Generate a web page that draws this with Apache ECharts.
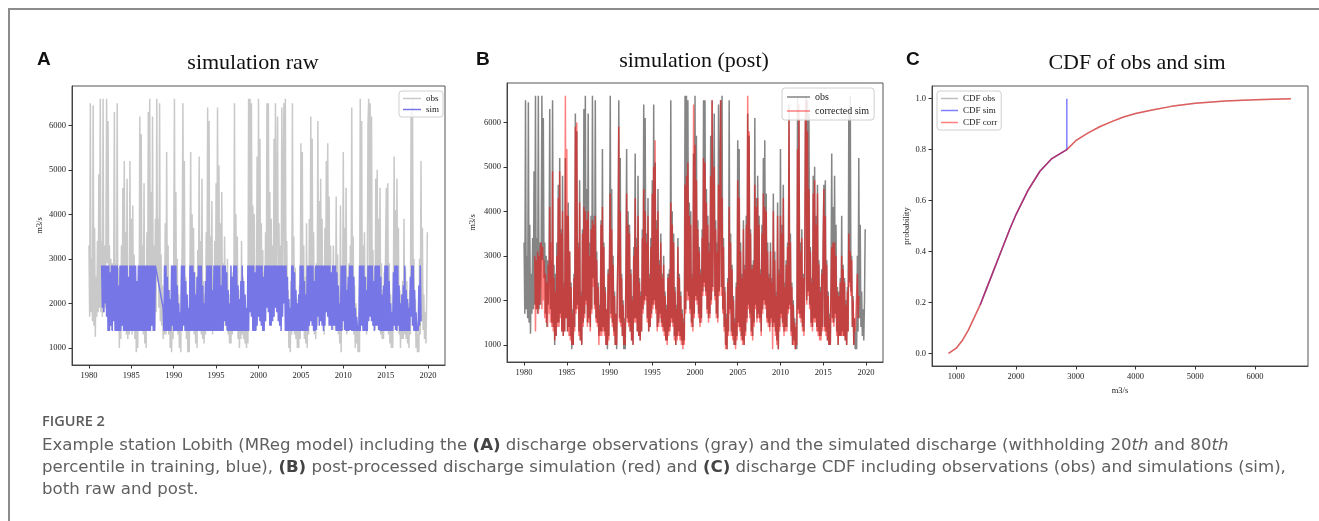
<!DOCTYPE html>
<html>
<head>
    <meta charset="utf-8">
    <title>Figure 2 - Lobith discharge</title>
    <script src="https://cdn.jsdelivr.net/npm/echarts@6/dist/echarts.min.js"></script>
</head>
<body style="margin:0;background:#fff">
<div id="container" style="width:1319px;height:521px"></div>
<script>
    // --- data (monthly, m3/s) ---
    // observed discharge, Jan 1980 .. Dec 2019
    var obs1980s = [
        3300, 1700, 6500, 1800, 3000, 1600, 6450, 1500, 3700, 1250, 2600, 1700, // 1980
        3400, 1800, 4900, 1900, 6600, 1800, 3400, 1700, 6600, 1800, 3300, 1900, // 1981
        3200, 6600, 2900, 6100, 2500, 3300, 1700, 3000, 1400, 2900, 1900, 2600, // 1982
        6300, 1800, 2900, 1500, 6500, 1400, 2800, 1000, 2600, 1200, 3300, 1500, // 1983
        4600, 1500, 5200, 1700, 3600, 1300, 4800, 1200, 2400, 1300, 5200, 1600, // 1984
        3900, 1300, 4200, 1400, 3100, 1200, 2400, 900, 1800, 1000, 2600, 1400,  // 1985
        6200, 1800, 5800, 1900, 3300, 1300, 4700, 1100, 2200, 1000, 3600, 1500, // 1986
        6300, 1700, 6600, 2000, 4500, 1500, 6200, 1600, 3300, 1400, 3900, 1800, // 1987
        6600, 2500, 3900, 1900, 6500, 1600, 3100, 1500, 2400, 1200, 1900, 1300, // 1988
        3800, 1300, 5400, 1400, 3300, 1300, 2300, 1000, 1800, 900, 2700, 1200   // 1989
    ];
    var obs1990s = [
        3000, 6600, 1700, 4500, 1500, 3000, 1300, 2200, 1000, 1700, 900, 2300,  // 1990
        3400, 6500, 1600, 5200, 1500, 2600, 1200, 2000, 900, 1600, 900, 2700,   // 1991
        5400, 1600, 4000, 1500, 3700, 1300, 2700, 1100, 2100, 1000, 3200, 1600, // 1992
        5300, 1600, 3400, 1300, 4800, 1200, 2500, 1100, 2200, 1300, 3600, 1800, // 1993
        6400, 2000, 6100, 2100, 3500, 1600, 4300, 1300, 2600, 1400, 3400, 1700, // 1994
        4700, 1900, 6400, 2000, 5100, 1800, 3800, 1400, 4500, 1500, 2900, 1700, // 1995
        3500, 1500, 2600, 1400, 3000, 1300, 2200, 1100, 1900, 1100, 2600, 1300, // 1996
        2700, 1400, 6500, 1600, 4000, 1500, 3500, 1200, 2300, 1000, 1900, 1200, // 1997
        3400, 1300, 2600, 1200, 2200, 1100, 1800, 1000, 1600, 1100, 6600, 1800, // 1998
        6600, 2200, 6500, 2100, 4200, 1800, 4000, 1500, 2600, 1400, 5300, 1700  // 1999
    ];
    var obs2000s = [
        6600, 2100, 5700, 2000, 3800, 1700, 3200, 1500, 2700, 1600, 3600, 2200, // 2000
        6500, 2400, 6500, 2200, 4500, 1800, 3900, 1600, 3300, 1700, 5700, 2000, // 2001
        6500, 2300, 4300, 6200, 2100, 3800, 1700, 3300, 1600, 6400, 2200, 4700, // 2002
        6500, 2300, 6600, 1800, 3400, 1400, 2300, 1000, 1700, 900, 2500, 1300,  // 2003
        6500, 1800, 3500, 1300, 2800, 1200, 2100, 1000, 1600, 1000, 2400, 1200, // 2004
        5600, 1500, 5400, 1400, 3300, 1200, 2600, 1100, 3800, 1000, 2800, 1300, // 2005
        3900, 1600, 6200, 1900, 5700, 1700, 3600, 1300, 2800, 1200, 2900, 1500, // 2006
        6100, 1900, 4300, 1600, 4800, 1700, 3900, 1600, 2700, 1300, 3700, 1800, // 2007
        5200, 2000, 5600, 1900, 4400, 1600, 3300, 1500, 2600, 1400, 3300, 1600, // 2008
        2500, 1400, 4400, 1500, 3100, 1300, 2200, 1100, 4200, 900, 2700, 1400   // 2009
    ];
    var obs2010s = [
        5400, 1700, 3700, 1500, 4600, 1300, 2400, 1400, 2900, 1400, 3300, 1800, // 2010
        6400, 1900, 3500, 1300, 2400, 1000, 2000, 1100, 1600, 900, 1400, 900,   // 2011
        6600, 1800, 6100, 1700, 3300, 1600, 3600, 1400, 2600, 1300, 2400, 6000, // 2012
        6600, 2000, 6500, 2200, 6200, 1900, 3200, 1500, 2500, 1400, 4800, 1600, // 2013
        5000, 1600, 3900, 1400, 4600, 1300, 2900, 1200, 2300, 1200, 2700, 1400, // 2014
        3400, 4600, 1400, 4700, 1300, 2900, 1100, 2200, 1000, 1700, 1000, 2400, // 2015
        5300, 1600, 4100, 1500, 4800, 1700, 3700, 1300, 2300, 1000, 2200, 1200, // 2016
        2500, 1200, 3900, 1300, 2800, 1200, 2500, 1100, 2000, 1000, 2300, 1300, // 2017
        6300, 2400, 6600, 2200, 3000, 1400, 2100, 1000, 1600, 900, 1300, 900,   // 2018
        3000, 1300, 5200, 1600, 3700, 1400, 2200, 1200, 1800, 1100, 2000, 3600  // 2019
    ];

    // raw simulation (withheld percentiles), Jul 1981 .. Mar 2019, null = gap
    var simRawStart = 1981.5;
    var simRaw1980s = [
        2850, 1900, 2850, 1800, 2850, 2000,                                     // 1981
        2850, 1700, 2850, 1380, 2850, 1380, 2700, 1500, 2850, 1380, 2850, 1600, // 1982
        2850, 1380, 2850, 1380, 2850, 1380, 2400, 1380, 2850, 1380, 2850, 1500, // 1983
        2850, 1380, 2850, 1380, 2850, 1380, 2850, 1380, 2600, 1380, 2850, 1380, // 1984
        2850, 1380, 2850, 1380, 2850, 1380, 2850, 1380, 2500, 1380, 2850, 1380, // 1985
        2850, 1380, 2850, 1380, 2850, 1380, 2850, 1380, 2850, 1380, 2850, 1380, // 1986
        2850, 1380, 2850, 1380, 2850, 1500, 2850, 1380, 2850, 1380, 2850, 2850, // 1987
        null, null, null, null, null, null, null, null, null, 1900, 1380, 2850, // 1988
        1380, 2850, 1380, 2600, 1380, 2300, 1380, 2100, 1380, 2850, 1500, 2850  // 1989
    ];
    var simRaw1990s = [
        1380, 2850, 1380, 2850, 1380, 2400, 1380, 2000, 1380, 1800, 1380, 2850, // 1990
        1380, 2850, 1500, 2850, 1380, 2500, 1380, 2200, 1380, 1900, 1380, 2850, // 1991
        1380, 2850, 1380, 2850, 1380, 2700, 1380, 2200, 1380, 2600, 1380, 2850, // 1992
        1380, 2850, 1380, 2850, 1380, 2400, 1380, 2000, 1380, 2500, 1380, 2850, // 1993
        1380, 2850, 1380, 2850, 1380, 2850, 1380, 2300, 1380, 2850, 1380, 2850, // 1994
        1380, 2850, 1380, 2850, 1380, 2850, 1380, 2400, 1380, 2850, 1380, 2850, // 1995
        1600, 2850, 1500, 2700, 1380, 2300, 1380, 2000, 1380, 2850, 1380, 2600, // 1996
        1380, 2850, 1380, 2850, 1380, 2850, 1380, 2400, 1380, 2100, 1380, 2500, // 1997
        1380, 2850, 1380, 2500, 1380, 2200, 1380, 1900, 1380, 2850, 1380, 2850, // 1998
        1800, 2850, 1700, 2850, 1380, 2850, 1380, 2700, 1380, 2850, 1500, 2850  // 1999
    ];
    var simRaw2000s = [
        1700, 2850, 1600, 2850, 1500, 2850, 1380, 2600, 1380, 2850, 1600, 2850, // 2000
        1900, 2850, 1800, 2850, 1500, 2850, 1500, 2850, 1600, 2850, 1700, 2850, // 2001
        1900, 2850, 1800, 2850, 1600, 2850, 1500, 2850, 1380, 2850, 1700, 2850, // 2002
        2000, 2850, 1380, 2850, 1380, 2600, 1380, 2100, 1380, 1900, 1380, 2850, // 2003
        1380, 2850, 1380, 2700, 1380, 2300, 1380, 2000, 1380, 2200, 1380, 2850, // 2004
        1380, 2850, 1380, 2850, 1380, 2500, 1380, 2200, 1380, 2850, 1380, 2850, // 2005
        1500, 2850, 1600, 2850, 1500, 2850, 1380, 2500, 1380, 2850, 1400, 2850, // 2006
        1700, 2850, 1500, 2850, 1600, 2850, 1500, 2850, 1380, 2850, 1500, 2850, // 2007
        1800, 2850, 1700, 2850, 1500, 2850, 1500, 2700, 1400, 2850, 1500, 2850, // 2008
        1500, 2850, 1380, 2700, 1380, 2400, 1380, 2000, 1380, 2850, 1380, 2850  // 2009
    ];
    var simRaw2010s = [
        1600, 2850, 1400, 2850, 1380, 2300, 1380, 2600, 1380, 2850, 1400, 2850, // 2010
        1380, 2850, 1380, 2600, 1380, 1900, 1380, 1700, 1380, 1500, 1380, 2850, // 2011
        1380, 2850, 1500, 2850, 1380, 2850, 1380, 2600, 1380, 2300, 1380, 2850, // 2012
        1600, 2850, 1700, 2850, 1600, 2850, 1500, 2500, 1380, 2850, 1500, 2850, // 2013
        1500, 2850, 1400, 2850, 1380, 2600, 1380, 2200, 1380, 2400, 1380, 2850, // 2014
        1380, 2850, 1380, 2850, 1380, 2500, 1380, 2000, 1380, 1800, 1380, 2700, // 2015
        1500, 2850, 1400, 2850, 1380, 2850, 1500, 2400, 1380, 2000, 1380, 2200, // 2016
        1380, 2400, 1380, 2850, 1380, 2300, 1380, 2100, 1380, 1900, 1380, 2600, // 2017
        1700, 2850, 1500, 2850, 1380, 2300, 1380, 1800, 1380, 1500, 1380, 2400, // 2018
        1500, 2850, 1600                                                        // 2019
    ];

    // post-processed (corrected) simulation, Apr 1981 .. Mar 2019
    var corrStart = 1981.25;
    var corr1980s = [
        3000, 1300, 2900, 1800, 3100, 1700, 3000, 1900, 3200,                   // 1981
        3300, 1800, 3200, 2000, 2900, 1600, 2600, 1500, 2400, 1400, 2800, 1700, // 1982
        4100, 1500, 3300, 1400, 4900, 1300, 2500, 1100, 2200, 1200, 3000, 1400, // 1983
        4300, 1400, 4900, 1600, 3500, 1300, 4000, 1200, 2300, 1300, 6600, 1600, // 1984
        5400, 1300, 3900, 1200, 3100, 1100, 2300, 1000, 1700, 1000, 2500, 1300, // 1985
        5900, 1700, 6000, 1800, 3200, 1200, 4200, 1100, 2100, 1000, 3500, 1400, // 1986
        4100, 1600, 4000, 1900, 3800, 1400, 4000, 1500, 3000, 1300, 3600, 1700, // 1987
        3800, 2300, 3700, 1800, 3900, 1500, 2900, 1400, 2300, 1000, 1800, 1200, // 1988
        3700, 1200, 4100, 1300, 3200, 1200, 2200, 1000, 1800, 1000, 2600, 1100  // 1989
    ];
    var corr1990s = [
        2900, 4400, 1600, 3600, 1400, 2800, 1200, 2100, 1000, 1700, 1000, 2200, // 1990
        3200, 5900, 1500, 4000, 1400, 2500, 1200, 1900, 1000, 1500, 1000, 2600, // 1991
        4400, 1500, 3700, 1400, 3500, 1300, 2600, 1100, 2000, 1000, 3000, 1500, // 1992
        4300, 1500, 3200, 1300, 3900, 1200, 2400, 1100, 2100, 1300, 3400, 1700, // 1993
        4500, 1900, 4000, 2000, 3300, 1500, 3900, 1300, 2500, 1400, 3200, 1600, // 1994
        4400, 1800, 5000, 1900, 5600, 1700, 3600, 1300, 4000, 1400, 2800, 1600, // 1995
        3300, 1400, 2500, 1300, 2800, 1200, 2100, 1100, 1800, 1000, 2500, 1200, // 1996
        2600, 1300, 4200, 1500, 3700, 1400, 3300, 1100, 2200, 1000, 1800, 1100, // 1997
        3200, 1200, 2500, 1100, 2100, 1000, 1700, 900, 1500, 1000, 4600, 1700,  // 1998
        4800, 2000, 5100, 2000, 3900, 1700, 3700, 1400, 2500, 1300, 6400, 1600  // 1999
    ];
    var corr2000s = [
        5500, 2000, 4700, 1900, 3600, 1600, 3100, 1400, 2600, 1500, 3400, 2100, // 2000
        5200, 2300, 5100, 2100, 4200, 1700, 3700, 1500, 3100, 1600, 4800, 1900, // 2001
        6500, 2200, 4100, 5000, 2000, 3600, 1600, 3100, 1500, 4600, 2100, 4300, // 2002
        6500, 2100, 4300, 1700, 3200, 1300, 2200, 900, 1600, 900, 2400, 1200,   // 2003
        4100, 1700, 3300, 1200, 2700, 1100, 2000, 1000, 1500, 900, 2300, 1100,  // 2004
        4700, 1400, 4300, 1300, 3100, 1100, 2500, 1000, 3600, 1000, 2700, 1200, // 2005
        3700, 1500, 6600, 1800, 5800, 1600, 3500, 1200, 2700, 1100, 2800, 1400, // 2006
        4600, 1800, 4100, 1500, 4300, 1600, 3700, 1500, 2600, 1200, 3500, 1700, // 2007
        4400, 1900, 4100, 1800, 4000, 1500, 3100, 1400, 2500, 1300, 3100, 1500, // 2008
        2400, 900, 4000, 1400, 2900, 1200, 2100, 1000, 3900, 900, 2600, 1300    // 2009
    ];
    var corr2010s = [
        3900, 1600, 3500, 1400, 4300, 1200, 2300, 1300, 2800, 1300, 3200, 1700, // 2010
        6100, 1800, 3300, 1200, 2300, 1000, 1900, 1000, 1500, 900, 1400, 1000,  // 2011
        5400, 1700, 6400, 1600, 3100, 1500, 3400, 1300, 2500, 1200, 2300, 6000, // 2012
        6500, 1900, 5800, 2100, 4500, 1800, 3100, 1400, 2400, 1300, 4400, 1500, // 2013
        4700, 1500, 3700, 1300, 4400, 1200, 2800, 1100, 2200, 1100, 2600, 1300, // 2014
        3300, 4500, 1300, 3900, 1200, 2800, 1100, 2100, 1000, 1600, 1000, 2300, // 2015
        3200, 1500, 3300, 1400, 3300, 1600, 3000, 1200, 2200, 1000, 2100, 1200, // 2016
        2400, 1200, 3000, 1200, 2700, 1200, 2400, 1100, 1900, 1000, 2200, 1300, // 2017
        3500, 2300, 3100, 2100, 2900, 1400, 2000, 1000, 1600, 1300, 1300, 1300, // 2018
        2600, 1600, 2100                                                        // 2019
    ];

    // CDF curves (discharge, probability)
    var cdfQ = [870, 1000, 1100, 1200, 1300, 1400, 1500, 1600, 1700, 1800, 1900, 2000,
        2200, 2400, 2600, 2850, 3000, 3200, 3400, 3600, 3800, 4000, 4300, 4600, 5000, 5500, 6000, 6600];
    var cdfObsP = [0.0, 0.02, 0.05, 0.09, 0.14, 0.19, 0.25, 0.31, 0.37, 0.43, 0.49, 0.545,
        0.64, 0.715, 0.765, 0.80, 0.835, 0.865, 0.89, 0.91, 0.928, 0.942, 0.957, 0.97, 0.982, 0.991, 0.996, 1.0];
    var cdfCorrP = [0.0, 0.02, 0.05, 0.09, 0.14, 0.19, 0.25, 0.31, 0.37, 0.43, 0.49, 0.545,
        0.64, 0.715, 0.765, 0.80, 0.835, 0.865, 0.89, 0.91, 0.928, 0.942, 0.957, 0.97, 0.982, 0.991, 0.996, 1.0];
    var cdfSimQ = [1400, 1500, 1600, 1700, 1800, 1900, 2000, 2200, 2400, 2600, 2850, 2850];
    var cdfSimP = [0.19, 0.25, 0.31, 0.37, 0.43, 0.49, 0.545, 0.64, 0.715, 0.765, 0.80, 1.0];

    var yearTicks = [1980, 1985, 1990, 1995, 2000, 2005, 2010, 2015, 2020];
    var flowTicks = [1000, 2000, 3000, 4000, 5000, 6000];
    var probTicks = [0.0, 0.2, 0.4, 0.6, 0.8, 1.0];

    // --- helpers ---
    function monthly(start, vals) {
        var res = [];
        for (var i = 0; i < vals.length; i++) {
            if (vals[i] !== null) res.push([start + i / 12, vals[i]]);
        }
        return res;
    }
    function pairs(xs, ys) {
        return xs.map(function (x, i) { return [x, ys[i]]; });
    }

    var obs = [].concat(obs1980s, obs1990s, obs2000s, obs2010s);
    var simRaw = [].concat(simRaw1980s, simRaw1990s, simRaw2000s, simRaw2010s);
    var corr = [].concat(corr1980s, corr1990s, corr2000s, corr2010s);

    var serif = '"Liberation Serif", "DejaVu Serif", serif';
    var tickFont = {fontFamily: serif, fontSize: 8.5, color: '#222'};

    function xAxisOf(grid, min, max, ticks, fmt) {
        return {
            gridIndex: grid, type: 'value', min: min, max: max,
            splitLine: {show: false},
            axisLine: {show: true, onZero: false, lineStyle: {color: '#444', width: 1}},
            axisTick: {show: true, customValues: ticks, length: 3.5, lineStyle: {color: '#333'}},
            axisLabel: Object.assign({customValues: ticks, margin: 6, formatter: fmt}, tickFont)
        };
    }
    function yAxisOf(grid, min, max, ticks, fmt, name, gap) {
        return {
            gridIndex: grid, type: 'value', min: min, max: max,
            name: name, nameLocation: 'middle', nameGap: gap, nameRotate: 90,
            nameTextStyle: {fontFamily: serif, fontSize: 8.5, color: '#222'},
            splitLine: {show: false},
            axisLine: {show: true, onZero: false, lineStyle: {color: '#444', width: 1}},
            axisTick: {show: true, customValues: ticks, length: 3.5, lineStyle: {color: '#333'}},
            axisLabel: Object.assign({customValues: ticks, margin: 6, formatter: fmt}, tickFont)
        };
    }
    function lineSeries(name, xi, data, color, z) {
        return {
            name: name, type: 'line', xAxisIndex: xi, yAxisIndex: xi,
            data: data, showSymbol: false, symbol: 'none', z: z,
            itemStyle: {color: color},
            lineStyle: {color: color, width: 1.5},
            emphasis: {disabled: true}
        };
    }
    var intFmt = function (v) { return String(Math.round(v)); };
    var probFmt = function (v) { return v.toFixed(1); };
    var legendBase = {
        orient: 'vertical', icon: 'rect', itemHeight: 1.5,
        backgroundColor: 'rgba(255,255,255,0.85)', borderColor: '#d0d0d0', borderWidth: 1,
        borderRadius: 3, selectedMode: false,
        textStyle: {fontFamily: serif, fontSize: 9, color: '#222'}
    };

    var myChart = echarts.init(document.getElementById('container'), null, {renderer: 'canvas'});

    // caption font (wide humanist sans, like the journal's)
    var capFamily = '"DejaVu Sans", "Open Sans", sans-serif';
    var capColor = '#606060';
    var capSize = 16.6;
    var option = {
        backgroundColor: '#fff',
        animation: false,
        grid: [
            {left: 72, top: 86, width: 373, height: 279, show: true, borderColor: '#555', borderWidth: 1},
            {left: 507, top: 83, width: 376, height: 279, show: true, borderColor: '#555', borderWidth: 1},
            {left: 932, top: 86, width: 376, height: 280, show: true, borderColor: '#555', borderWidth: 1}
        ],
        xAxis: [
            xAxisOf(0, 1978, 2022, yearTicks, intFmt),
            xAxisOf(1, 1978, 2022, yearTicks, intFmt),
            Object.assign(xAxisOf(2, 594, 6886, flowTicks, intFmt), {
                name: 'm3/s', nameLocation: 'middle', nameGap: 15,
                nameTextStyle: {fontFamily: serif, fontSize: 8.5, color: '#222'}
            })
        ],
        yAxis: [
            yAxisOf(0, 615, 6885, flowTicks, intFmt, 'm3/s', 28),
            yAxisOf(1, 615, 6885, flowTicks, intFmt, 'm3/s', 30),
            yAxisOf(2, -0.05, 1.05, probTicks, probFmt, 'probability', 20)
        ],
        legend: [
            Object.assign({}, legendBase, {
                left: 399, top: 91, itemWidth: 18, itemGap: 2, padding: [3, 4],
                data: ['obs A', 'sim'],
                formatter: function (n) { return n === 'obs A' ? 'obs' : n; }
            }),
            Object.assign({}, legendBase, {
                left: 782, top: 88, itemWidth: 23, itemGap: 4, padding: [4, 5],
                textStyle: {fontFamily: serif, fontSize: 10, color: '#222'},
                data: ['obs B', 'corrected sim'],
                formatter: function (n) { return n === 'obs B' ? 'obs' : n; }
            }),
            Object.assign({}, legendBase, {
                left: 937, top: 91, itemWidth: 17, itemGap: 3, padding: [3, 4],
                data: ['CDF obs', 'CDF sim', 'CDF corr']
            })
        ],
        series: [
            lineSeries('obs A', 0, monthly(1980, obs), '#c9c9c9', 2),
            lineSeries('sim', 0, monthly(simRawStart, simRaw), '#7676e6', 3),
            lineSeries('obs B', 1, monthly(1980, obs), '#858585', 2),
            lineSeries('corrected sim', 1, monthly(corrStart, corr), 'rgba(255,0,0,0.5)', 3),
            lineSeries('CDF obs', 2, pairs(cdfQ, cdfObsP), 'rgba(128,128,128,0.5)', 2),
            lineSeries('CDF sim', 2, pairs(cdfSimQ, cdfSimP), 'rgba(0,0,255,0.5)', 3),
            lineSeries('CDF corr', 2, pairs(cdfQ, cdfCorrP), 'rgba(255,0,0,0.5)', 4)
        ],
        graphic: [
            // figure frame
            {type: 'polyline', silent: true, shape: {points: [[9, 521], [9, 9], [1319, 9]]},
                style: {stroke: '#8c8c8c', lineWidth: 2, fill: null}},
            // panel letters
            {type: 'text', x: 37, y: 60, style: {text: 'A', font: 'bold 19px "Liberation Sans", Arial, sans-serif', fill: '#111', textVerticalAlign: 'middle'}},
            {type: 'text', x: 476, y: 60, style: {text: 'B', font: 'bold 19px "Liberation Sans", Arial, sans-serif', fill: '#111', textVerticalAlign: 'middle'}},
            {type: 'text', x: 906, y: 60, style: {text: 'C', font: 'bold 19px "Liberation Sans", Arial, sans-serif', fill: '#111', textVerticalAlign: 'middle'}},
            // panel titles
            {type: 'text', x: 253, y: 63, style: {text: 'simulation raw', font: '22px "Liberation Serif", serif', fill: '#111', textAlign: 'center', textVerticalAlign: 'middle'}},
            {type: 'text', x: 694, y: 61, style: {text: 'simulation (post)', font: '22px "Liberation Serif", serif', fill: '#111', textAlign: 'center', textVerticalAlign: 'middle'}},
            {type: 'text', x: 1137, y: 63, style: {text: 'CDF of obs and sim', font: '22px "Liberation Serif", serif', fill: '#111', textAlign: 'center', textVerticalAlign: 'middle'}},
            // caption
            {type: 'text', x: 42, y: 422, style: {text: 'FIGURE 2', font: '600 14.5px "Open Sans", sans-serif', fill: '#5a5a5a', textVerticalAlign: 'middle'}},
            {type: 'text', x: 42, y: 435, style: {
                text: 'Example station Lobith (MReg model) including the {b|(A)} discharge observations (gray) and the simulated discharge (withholding 20{i|th} and 80{i|th}\n' +
                    'percentile in training, blue), {b|(B)} post-processed discharge simulation (red) and {b|(C)} discharge CDF including observations (obs) and simulations (sim),\n' +
                    'both raw and post.',
                fontFamily: capFamily, fontSize: capSize, fill: capColor,
                lineHeight: 22, textVerticalAlign: 'top',
                rich: {
                    b: {fontFamily: capFamily, fontSize: capSize, fontWeight: 'bold', fill: '#444', lineHeight: 22},
                    i: {fontFamily: capFamily, fontSize: capSize, fontStyle: 'italic', fill: capColor, lineHeight: 22}
                }
            }}
        ]
    };

    myChart.setOption(option);
</script>
</body>
</html>
